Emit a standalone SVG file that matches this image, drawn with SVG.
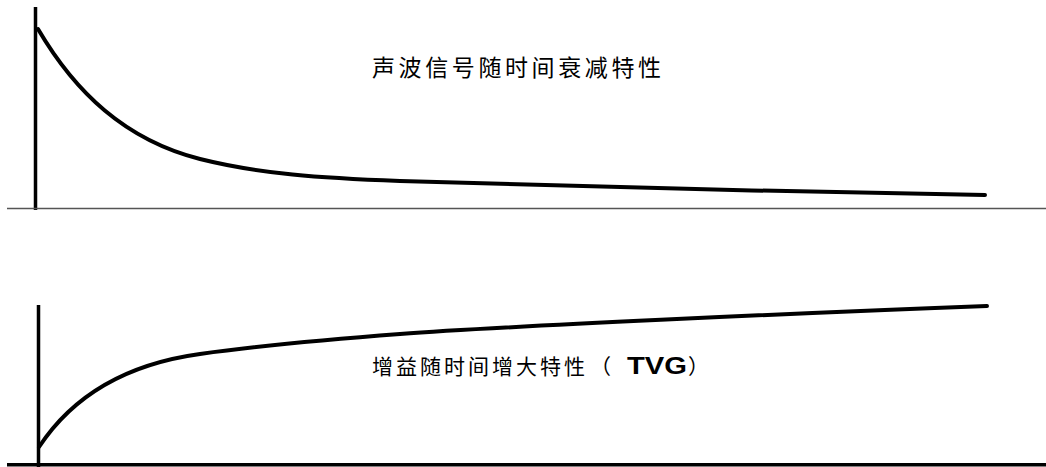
<svg xmlns="http://www.w3.org/2000/svg" width="1046" height="467" viewBox="0 0 1046 467">
<style>
.axis{stroke:#000;stroke-width:3.5;fill:none}
.base{stroke:#555;stroke-width:1.5;fill:none}
.curve{stroke:#000;stroke-width:4;fill:none;stroke-linecap:round;stroke-linejoin:round}
.lbl{font-family:"Noto Sans CJK SC","Noto Sans",sans-serif;fill:#000}
.bold{font-family:"Liberation Sans",Arial,sans-serif;font-weight:bold}
</style>
<rect width="1046" height="467" fill="#fff"/>
<g id="connectors">
<g id="top-chart">
<line class="axis" x1="35.5" y1="7" x2="35.5" y2="210"/>
<line class="base" x1="7" y1="208.5" x2="1046" y2="208.5"/>
<path class="curve" d="M38,29 C75,92 125,140 200,159 C260,174 320,178 400,181 C500,184.75 800,192 985,195"/>
</g>
<g id="bottom-chart">
<line class="axis" x1="38.5" y1="305" x2="38.5" y2="467"/>
<line class="axis" x1="7" y1="464.7" x2="1046" y2="464.7" stroke-width="4"/>
<path class="curve" d="M39,447 C70,400 120,365 200,354 C260,345.75 320,340 400,334 C500,326.5 800,313 987,306"/>
</g>
</g>
<g id="label-top">
<text class="lbl" x="372" y="76" font-size="23" letter-spacing="3.6">声波信号随时间衰减特性</text>
</g>
<g id="label-bottom">
<text class="lbl" x="372" y="374" font-size="21" letter-spacing="3">增益随时间增大特性</text>
<text class="lbl" x="590" y="374" font-size="21">（</text>
<text class="lbl bold" x="627" y="374" font-size="23" textLength="60" lengthAdjust="spacingAndGlyphs">TVG</text>
<text class="lbl" x="688" y="374" font-size="21">）</text>
</g>
</svg>
